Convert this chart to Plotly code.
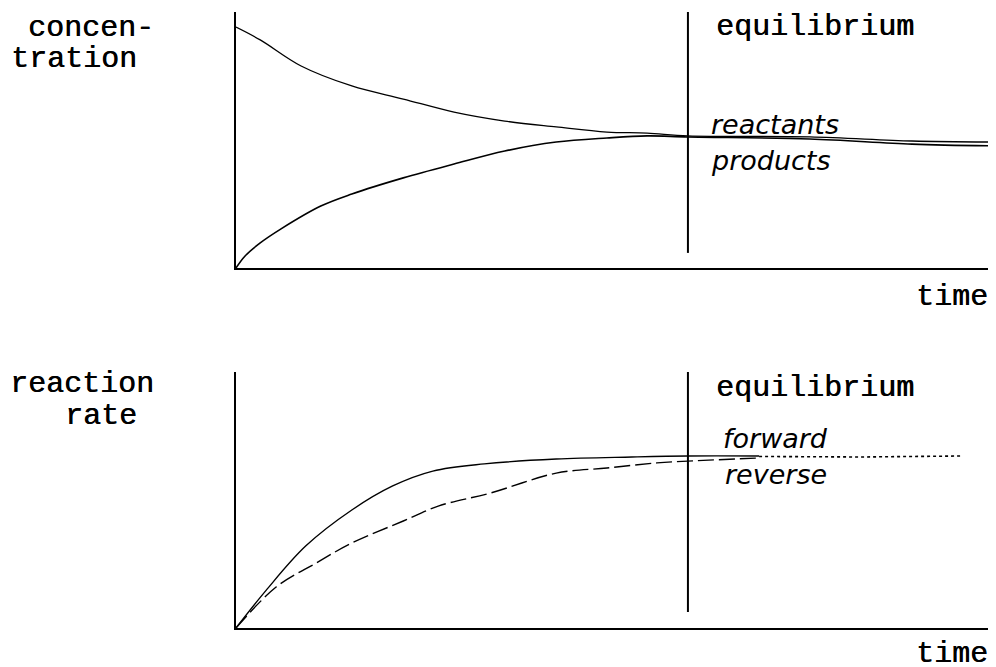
import plotly.graph_objects as go

# time runs 0..100 across each panel, equilibrium reached at about t = 60
t_eq = 59.7

# concentration panel
t_react = [0, 3.2, 8.6, 15.3, 22.1, 28.8, 35.5, 42.3, 49.0, 54.3, 59.7, 75.8, 89.3, 100]
c_react = [94.1, 89.1, 78.9, 71.1, 66.0, 60.9, 57.4, 55.1, 53.1, 52.7, 51.6, 51.2, 49.6, 49.2]

t_prod = [0, 1.2, 3.2, 5.9, 11.2, 15.3, 22.1, 28.8, 35.5, 42.3, 49.0, 54.3, 59.7, 75.8, 89.3, 100]
c_prod = [0, 4.7, 9.8, 15.2, 24.2, 28.9, 35.2, 40.6, 45.7, 49.2, 50.8, 51.6, 51.2, 50.4, 48.4, 47.7]

# reaction rate panel
t_fwd = [0, 4.0, 9.2, 15.3, 20.7, 26.0, 32.8, 42.3, 52.3, 59.7, 69.1]
r_fwd = [0, 14.8, 32.0, 46.1, 55.5, 61.3, 64.1, 66.0, 66.8, 67.2, 67.2]

t_rev = [0, 5.3, 10.6, 15.3, 22.1, 26.8, 33.6, 42.3, 49.0, 55.6, 59.7, 69.1]
r_rev = [0, 16.0, 25.4, 33.2, 41.8, 47.7, 52.7, 60.5, 62.5, 64.5, 65.2, 66.4]

t_tail = [69.1, 82.6, 96.0]
r_tail = [67.0, 66.8, 67.2]

# page body keeps an 8px margin, so the figure is 8px smaller on each side
W, H = 988, 659
OFF = 8
mono = "Liberation Mono"
hand = "DejaVu Sans"


def px(x):
    return (x - OFF) / W


def py(y):
    return 1 - (y - OFF) / H


fig = go.Figure()
fig.add_trace(go.Scatter(x=t_react, y=c_react, mode="lines", line=dict(color="black", width=1.3, shape="spline"), xaxis="x", yaxis="y"))
fig.add_trace(go.Scatter(x=t_prod, y=c_prod, mode="lines", line=dict(color="black", width=1.6, shape="spline"), xaxis="x", yaxis="y"))
fig.add_trace(go.Scatter(x=t_fwd, y=r_fwd, mode="lines", line=dict(color="black", width=1.4, shape="spline"), xaxis="x2", yaxis="y2"))
fig.add_trace(go.Scatter(x=t_rev, y=r_rev, mode="lines", line=dict(color="black", width=1.4, shape="spline", dash="16px,5px"), xaxis="x2", yaxis="y2"))
fig.add_trace(go.Scatter(x=t_tail, y=r_tail, mode="lines", line=dict(color="black", width=1.6, dash="dot"), xaxis="x2", yaxis="y2"))

ax = dict(range=[0, 100], showline=True, linecolor="black", linewidth=2,
          showgrid=False, zeroline=False, showticklabels=False, ticks="", fixedrange=True)

fig.update_layout(
    width=W, height=H,
    margin=dict(l=0, r=0, t=0, b=0),
    paper_bgcolor="white", plot_bgcolor="white",
    showlegend=False,
    xaxis=dict(ax, domain=[px(236), px(993)], anchor="y"),
    yaxis=dict(ax, domain=[py(268), py(12)], anchor="x", linewidth=1.5),
    xaxis2=dict(ax, domain=[px(236), px(993)], anchor="y2"),
    yaxis2=dict(ax, domain=[py(628), py(372)], anchor="x2", linewidth=1.5),
    shapes=[
        dict(type="line", xref="x", yref="y", x0=t_eq, x1=t_eq, y0=5.9, y1=100, line=dict(color="black", width=2)),
        dict(type="line", xref="x2", yref="y2", x0=t_eq, x1=t_eq, y0=6.25, y1=100, line=dict(color="black", width=2)),
    ],
)

labels = [
    # text, left x, middle y (reference pixels), font, size
    ("concen-", 27, 28, mono, 30),
    ("tration", 10, 59, mono, 30),
    ("reaction", 9, 384, mono, 30),
    ("rate", 64, 416, mono, 30),
    ("equilibrium", 715, 27, mono, 30),
    ("equilibrium", 715, 388, mono, 30),
    ("time", 915, 297, mono, 30),
    ("time", 915, 654, mono, 30),
    ("<i>reactants</i>", 710, 124, hand, 27),
    ("<i>products</i>", 710, 161, hand, 27),
    ("<i>forward</i>", 722, 438, hand, 27),
    ("<i>reverse</i>", 724, 474, hand, 27),
]
for text, x, y, fam, size in labels:
    fig.add_annotation(
        text=text,
        x=px(x), y=py(y), xref="paper", yref="paper",
        xanchor="left", yanchor="middle", showarrow=False, borderpad=0,
        font=dict(family=fam, size=size, color="black",
                  shadow="0.6px 0 0 black" if fam == mono else "none"),
    )

fig.write_html("out.html")
